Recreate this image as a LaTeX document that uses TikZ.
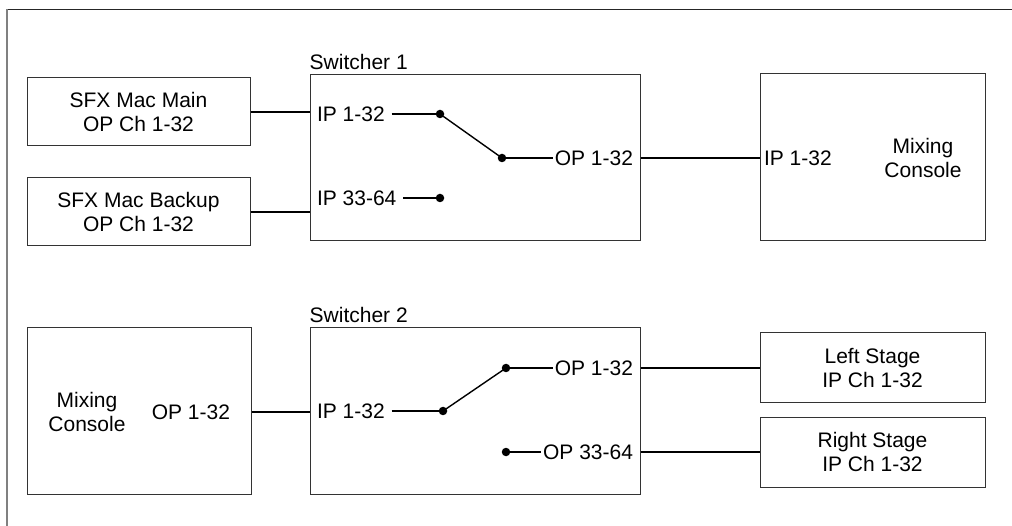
\documentclass[tikz,border=0pt]{standalone}
\usepackage{fontspec}
\setmainfont{Liberation Sans}
\begin{document}
\begin{tikzpicture}[x=1pt,y=-1pt,
  every node/.style={font=\fontsize{21}{24}\selectfont},
  box/.style={draw=black!80, line width=1pt, inner sep=0pt, align=center},
  lbl/.style={inner sep=0pt, outer sep=0pt},
  title/.style={inner sep=0pt, anchor=base west},
  dot/.style={circle, fill=black, inner sep=0pt, minimum size=8.5pt},
  wire/.style={line width=1.4pt, black},
  frame/.style={line width=1.5pt}]
\useasboundingbox (0,0) rectangle (1012,526);
% outer frame (top and left only)
\coordinate (ftl) at (7,9.5);
\coordinate (ftr) at (1012,9.5);
\coordinate (fbl) at (7,526);
\draw[frame, black!85] (ftl) -- (ftr);
\draw[frame, black!50] (ftl) -- (fbl);

% ---------- upper row ----------
\node[box, minimum width=223pt, minimum height=68pt] (sfxmain) at (138.5,112) {SFX Mac Main\\OP Ch 1-32};
\node[box, minimum width=223pt, minimum height=68pt] (sfxbackup) at (138.5,212) {SFX Mac Backup\\OP Ch 1-32};
\node[box, minimum width=330pt, minimum height=166pt] (sw1) at (475,158) {};
\node[title] (sw1t) at ([yshift=4.5pt]sw1.north west) {Switcher 1};
\node[box, minimum width=225pt, minimum height=167pt] (mix1) at (872.5,157.5) {};
\node[align=center, inner sep=0pt] (mix1t) at (923,158) {Mixing\\Console};

\node[lbl, anchor=west] (s1ip1) at (317,114) {IP 1-32};
\node[lbl, anchor=west] (s1ip2) at (317,198) {IP 33-64};
\node[lbl, anchor=east] (s1op) at (633,158) {OP 1-32};
\node[dot] (s1d1) at (440,114) {};
\node[dot] (s1d2) at (440,198) {};
\node[dot] (s1d3) at (502,158) {};
\node[lbl, anchor=west] (m1ip) at (764,158) {IP 1-32};

\draw[wire, shorten <=7pt] (s1ip1.east) -- (s1d1);
\draw[wire, shorten <=7pt] (s1ip2.east) -- (s1d2);
\draw[wire] (s1d1.center) -- (s1d3.center);
\draw[wire, shorten >=2pt] (s1d3) -- (s1op.west);
\draw[wire] (sfxmain.east) -- (sfxmain.east -| sw1.west);
\draw[wire] (sfxbackup.east) -- (sfxbackup.east -| sw1.west);
\draw[wire] (sw1.east) -- (sw1.east -| mix1.west);

% ---------- lower row ----------
\node[box, minimum width=224pt, minimum height=166pt] (mix2) at (139,411) {};
\node[align=center, inner sep=0pt] (mix2t) at (87,411.5) {Mixing\\Console};
\node[lbl, anchor=east] (m2op) at (230,412) {OP 1-32};
\node[box, minimum width=330pt, minimum height=166pt] (sw2) at (475,411) {};
\node[title] (sw2t) at ([yshift=5pt]sw2.north west) {Switcher 2};
\node[box, minimum width=225pt, minimum height=70pt] (lstage) at (872.5,368) {Left Stage\\IP Ch 1-32};
\node[box, minimum width=225pt, minimum height=70pt] (rstage) at (872.5,452) {Right Stage\\IP Ch 1-32};

\node[lbl, anchor=west] (s2ip) at (317,411) {IP 1-32};
\node[lbl, anchor=east] (s2op1) at (633,368) {OP 1-32};
\node[lbl, anchor=east] (s2op2) at (633,452) {OP 33-64};
\node[dot] (s2d1) at (443,411) {};
\node[dot] (s2d2) at (506,368) {};
\node[dot] (s2d3) at (506,452) {};

\draw[wire, shorten <=7pt] (s2ip.east) -- (s2d1);
\draw[wire] (s2d1.center) -- (s2d2.center);
\draw[wire, shorten >=2pt] (s2d2) -- (s2op1.west);
\draw[wire, shorten >=2pt] (s2d3) -- (s2op2.west);
\draw[wire] (mix2.east |- m2op) -- (m2op -| sw2.west);
\draw[wire] (s2op1 -| sw2.east) -- (lstage.west);
\draw[wire] (s2op2 -| sw2.east) -- (rstage.west);
\end{tikzpicture}
\end{document}
